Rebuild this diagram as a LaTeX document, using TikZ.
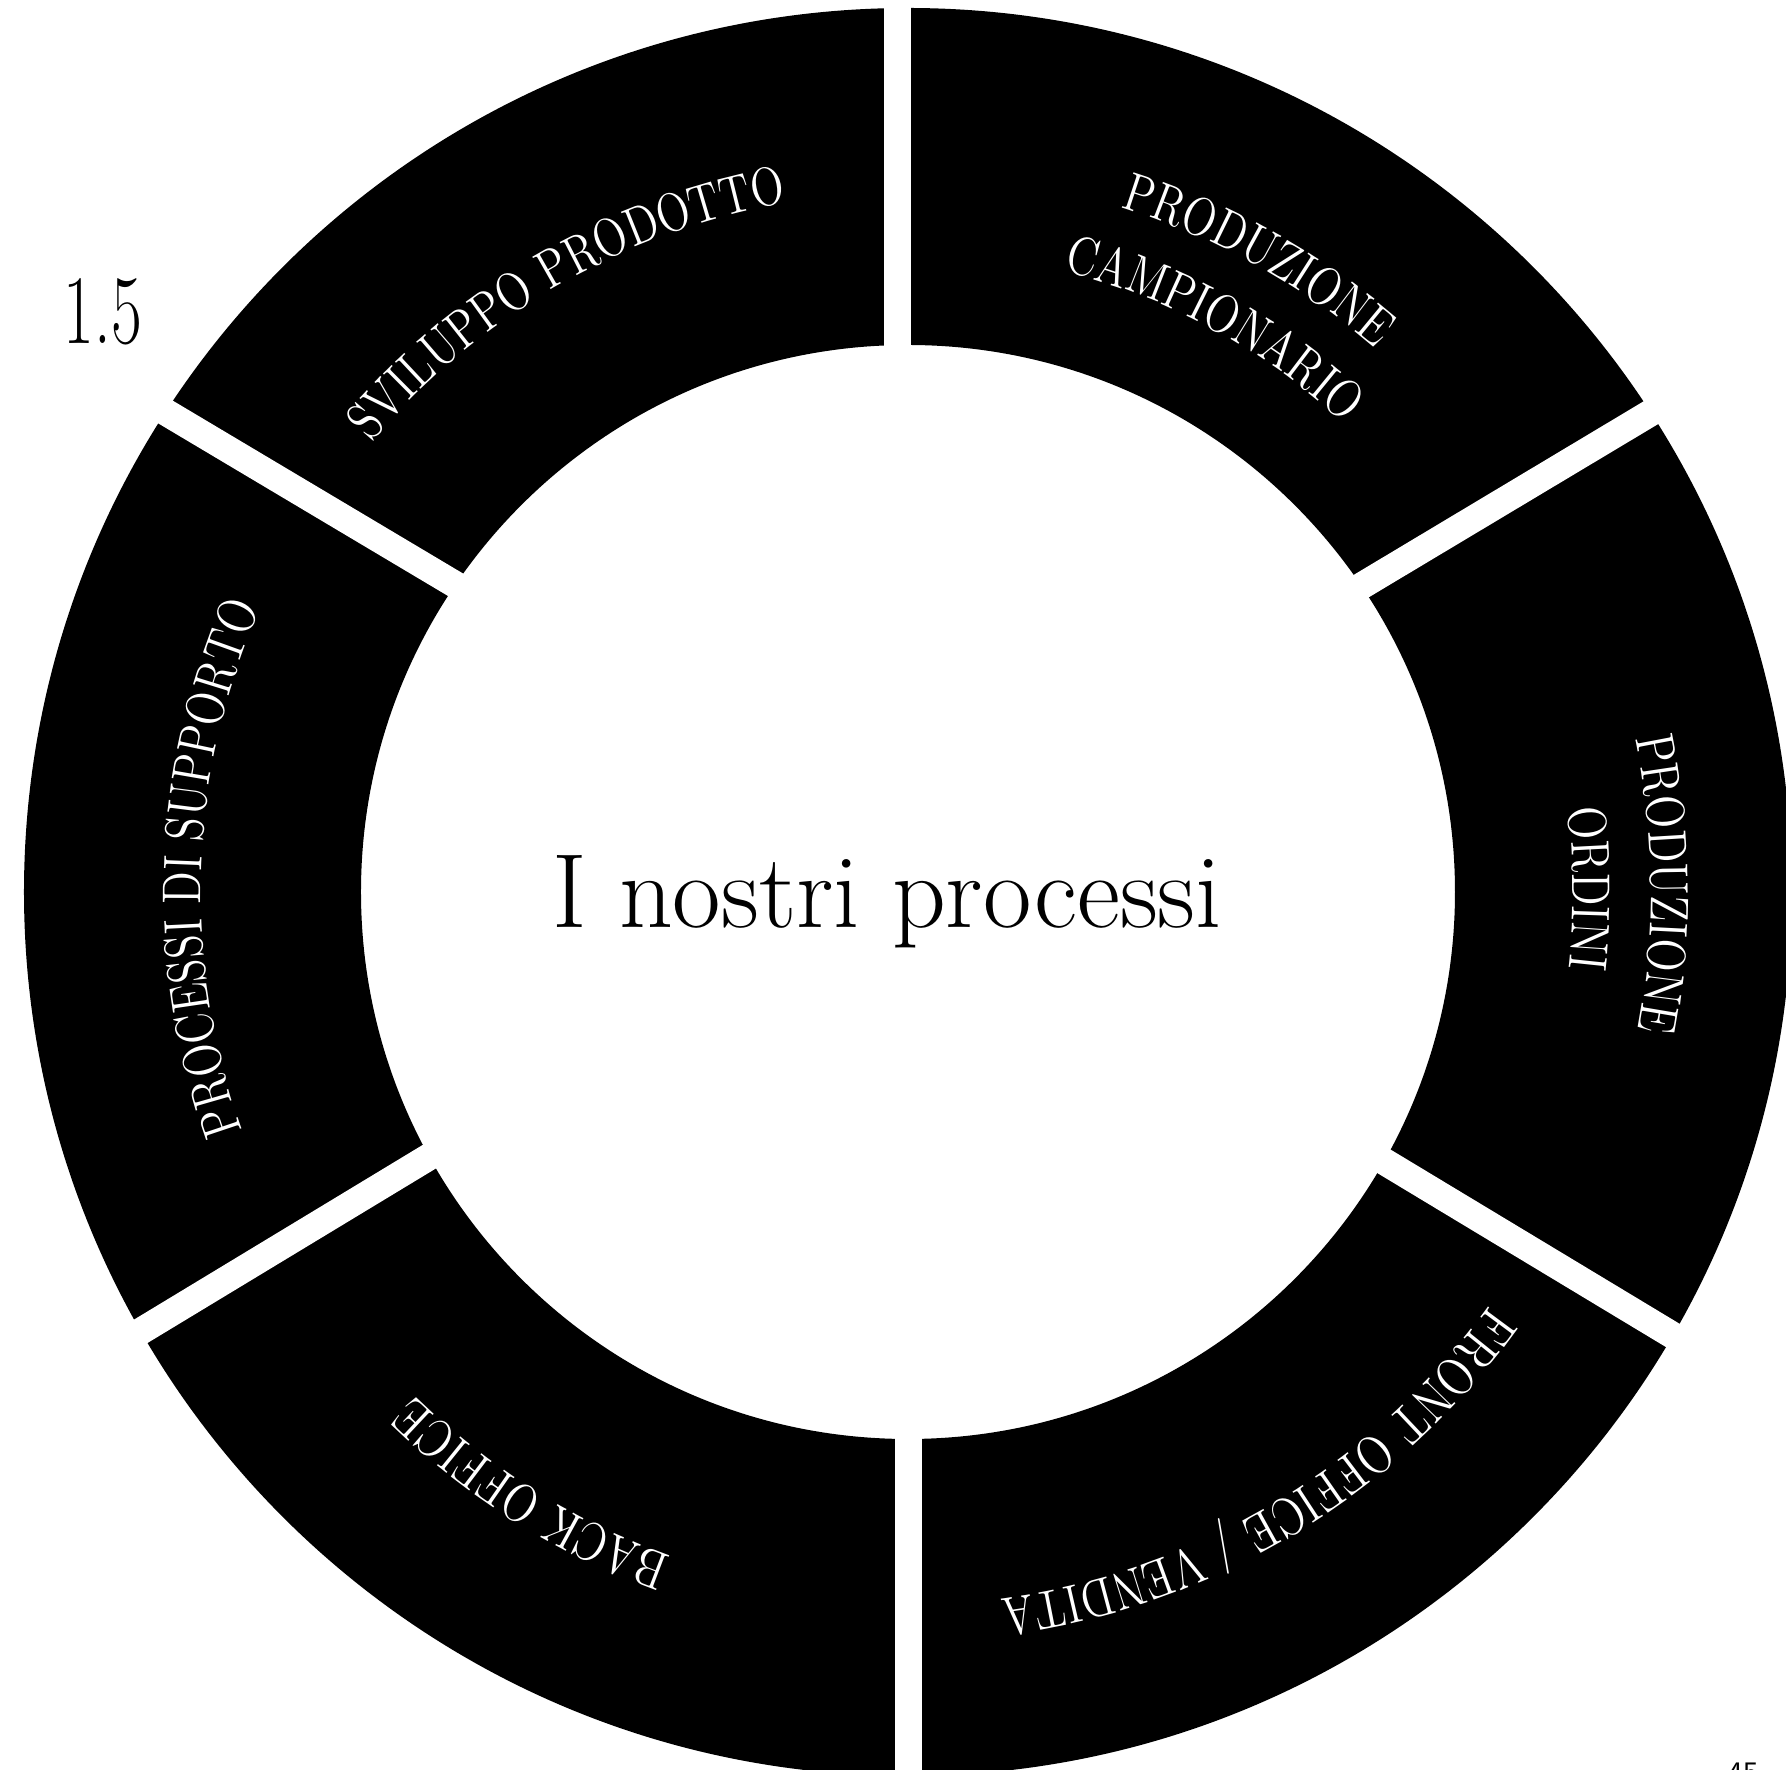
\documentclass[tikz,border=0pt]{standalone}
\usepackage{fontspec}
\usetikzlibrary{decorations.text}
\newfontfamily\FonteAnello[FakeStretch=0.8]{lmroman12-regular.otf}
\newfontfamily\FonteNum[FakeStretch=0.68]{lmroman17-regular.otf}
\tikzset{fente/.style={white,line width=0.27cm}}
\newcommand{\TestoArco}[3]{%
    % #1 rayon, #2 angle du milieu, #3 texte
    \path[decorate,decoration={text along path,text align=center,
        text color=white,
        text={|\FonteAnello\fontsize{15.5}{18}\selectfont|#3}}]
        (#2+28:#1) arc[start angle=#2+28,end angle=#2-28,radius=#1];
}

\begin{document}
\begin{tikzpicture}
\useasboundingbox (-9.08,-8.78) rectangle (8.78,8.92);
\clip (-9.08,-8.78) rectangle (8.78,8.92);

% anneau
\fill[black,even odd rule] (0,0) circle (8.84) (0,0) circle (5.47);

% fentes entre les secteurs
\draw[fente] (-0.105,5) -- (-0.105,9.5);
\draw[fente] (0.005,-5) -- (0.005,-9.5);
\draw[fente] (-4,2.76) -- (-8.5,5.44);
\draw[fente] (4,2.74) -- (8.5,5.434);
\draw[fente] (4.2,-2.356) -- (8.5,-4.948);
\draw[fente] (-4.2,-2.292) -- (-8.5,-4.894);

% textes des secteurs
\TestoArco{7.0}{120}{SVILUPPO PRODOTTO}
\TestoArco{7.17}{61}{PRODUZIONE}
\TestoArco{6.40}{61.5}{CAMPIONARIO}
\TestoArco{7.43}{0.6}{PRODUZIONE}
\TestoArco{6.65}{0.3}{ORDINI}
\TestoArco{7.13}{-59}{FRONT OFFICE / VENDITA}
\TestoArco{7.05}{-122}{BACK OFFICE}
\TestoArco{7.07}{178}{PROCESSI DI SUPPORTO}

\node (titolo) at (-0.205,-0.36) [anchor=base,inner sep=0pt,font=\fontsize{30}{36}\selectfont] {I nostri processi};
\node (sezione) at (-8.45,5.48) [anchor=base west,inner sep=0pt,font=\FonteNum\fontsize{28}{34}\selectfont] {1.5};
\node (pagina) at (8.19,-8.70) [anchor=north west,inner sep=0pt,font=\sffamily\fontsize{8.5}{10}\selectfont] {45};
\end{tikzpicture}
\end{document}
